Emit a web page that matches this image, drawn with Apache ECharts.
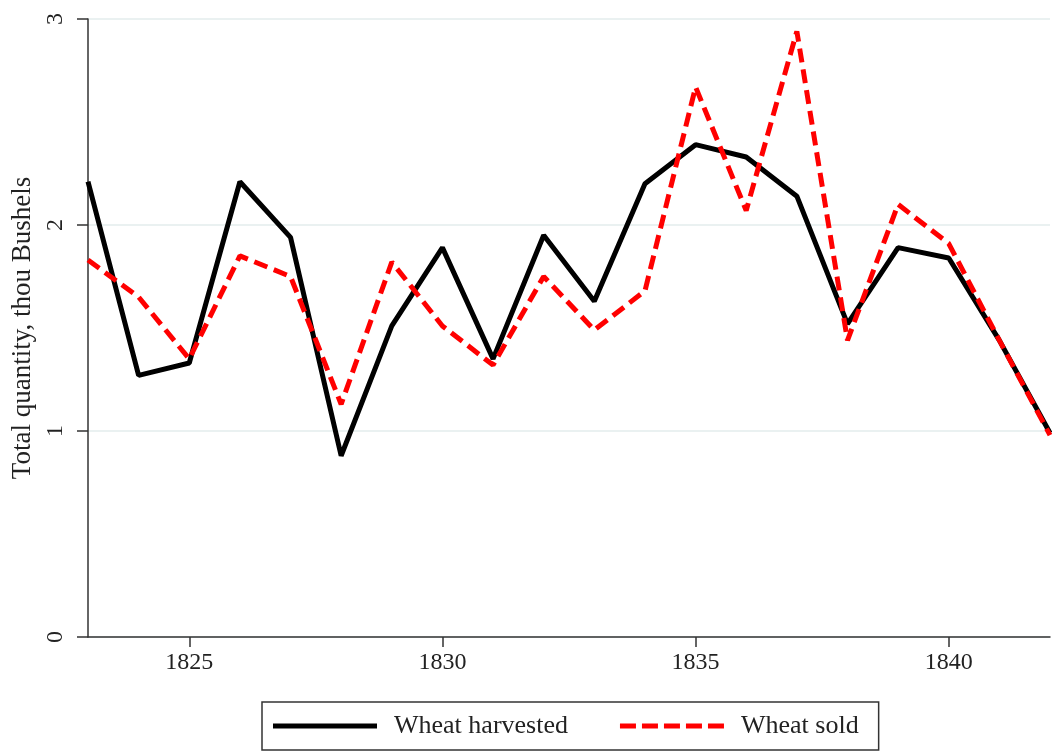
<!DOCTYPE html>
<html>
<head>
<meta charset="utf-8">
<script src="https://cdn.jsdelivr.net/npm/echarts@6/dist/echarts.min.js"></script>
<style>html,body{margin:0;padding:0;background:#fff;}#chart{width:1057px;height:754px;}</style>
</head>
<body>
<div id="chart"></div>
<script>
const years = [1823,1824,1825,1826,1827,1828,1829,1830,1831,1832,1833,1834,1835,1836,1837,1838,1839,1840,1841,1842];
const harvested = [2.21,1.27,1.33,2.21,1.94,0.88,1.51,1.89,1.35,1.95,1.63,2.20,2.39,2.33,2.14,1.52,1.89,1.84,1.44,0.99];
const sold = [1.83,1.65,1.35,1.85,1.75,1.13,1.82,1.51,1.32,1.75,1.49,1.68,2.67,2.07,2.94,1.44,2.10,1.91,1.44,0.98];
const xTicks = [1825,1830,1835,1840];
const yTicks = [0,1,2,3];

const font = '"Liberation Serif","Times New Roman",serif';
const solidIcon = 'path://M0,0h104v5h-104z';
const dashIcon = 'path://M0,0h16v5h-16z M22,0h16v5h-16z M44,0h16v5h-16z M66,0h16v5h-16z M88,0h16v5h-16z';
const chart = echarts.init(document.getElementById('chart'));
chart.setOption({
  animation: false,
  textStyle: {fontFamily: font, color: '#222'},
  grid: {left: 88, right: 7, top: 19, bottom: 117},
  legend: {
    left: 262, top: 702,
    orient: 'horizontal',
    borderColor: '#333', borderWidth: 1.5, borderRadius: 0,
    padding: [11, 20, 11, 11],
    itemWidth: 104, itemHeight: 5, itemGap: 52,
    textStyle: {fontFamily: font, fontSize: 26, lineHeight: 26, color: '#222', padding: [0,0,0,12]},
    data: [{name: 'Wheat harvested', icon: solidIcon}, {name: 'Wheat sold', icon: dashIcon}]
  },
  xAxis: {
    type: 'value', min: 1823, max: 1842,
    axisLine: {show: true, lineStyle: {color: '#333', width: 1.5}},
    axisTick: {show: true, length: 10, customValues: xTicks, lineStyle: {color: '#333', width: 1.5}},
    axisLabel: {customValues: xTicks, formatter: v => String(v), fontFamily: font, fontSize: 24, color: '#222', margin: 14},
    splitLine: {show: false}
  },
  yAxis: {
    type: 'value', min: 0, max: 3, interval: 1,
    name: 'Total quantity, thou Bushels', nameLocation: 'middle', nameGap: 47,
    nameTextStyle: {fontFamily: font, fontSize: 27, color: '#222'},
    axisLine: {show: true, lineStyle: {color: '#333', width: 1.5}},
    axisTick: {show: true, length: 11, lineStyle: {color: '#333', width: 1.5}},
    axisLabel: {rotate: 90, fontFamily: font, fontSize: 24, color: '#222', margin: 20,
      formatter: v => yTicks.includes(v) ? String(v) : ''},
    splitLine: {show: true, lineStyle: {color: '#e3eded', width: 1.5}}
  },
  series: [
    {name: 'Wheat harvested', type: 'line', data: years.map((y,i)=>[y, harvested[i]]),
     showSymbol: false, symbol: 'none', lineStyle: {color: '#000', width: 5}, itemStyle: {color: '#000'}, z: 2},
    {name: 'Wheat sold', type: 'line', data: years.map((y,i)=>[y, sold[i]]),
     showSymbol: false, symbol: 'none', lineStyle: {color: '#ff0000', width: 5, type: [14, 7]}, itemStyle: {color: '#ff0000'}, z: 3}
  ]
});
</script>
</body>
</html>
